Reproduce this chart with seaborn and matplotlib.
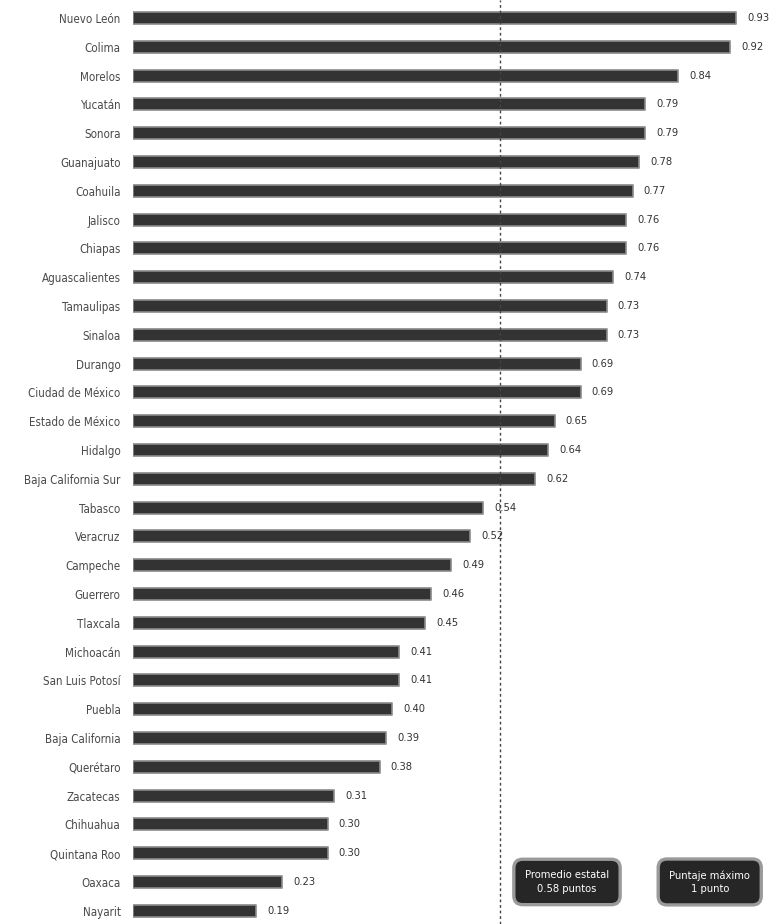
import pandas as pd
import matplotlib.pyplot as plt
import seaborn as sns

# datos: puntaje por entidad federativa
estados = ['Nuevo León', 'Colima', 'Morelos', 'Yucatán', 'Sonora', 'Guanajuato',
           'Coahuila', 'Jalisco', 'Chiapas', 'Aguascalientes', 'Tamaulipas',
           'Sinaloa', 'Durango', 'Ciudad de México', 'Estado de México', 'Hidalgo',
           'Baja California Sur', 'Tabasco', 'Veracruz', 'Campeche', 'Guerrero',
           'Tlaxcala', 'Michoacán', 'San Luis Potosí', 'Puebla', 'Baja California',
           'Querétaro', 'Zacatecas', 'Chihuahua', 'Quintana Roo', 'Oaxaca', 'Nayarit']
puntaje = [0.93, 0.92, 0.84, 0.79, 0.79, 0.78, 0.77, 0.76, 0.76, 0.74, 0.73,
           0.73, 0.69, 0.69, 0.65, 0.64, 0.62, 0.54, 0.52, 0.49, 0.46, 0.45,
           0.41, 0.41, 0.40, 0.39, 0.38, 0.31, 0.30, 0.30, 0.23, 0.19]
# línea punteada del promedio (según se ve en la imagen) y textos de los recuadros
linea_promedio = 0.566
texto_promedio = 'Promedio estatal\n0.58 puntos'
texto_maximo = 'Puntaje máximo\n1 punto'

df = pd.DataFrame({'estado': estados, 'puntaje': puntaje})

sns.set_style('white')
plt.rcParams['font.family'] = ['DejaVu Sans']
plt.rcParams['font.stretch'] = 'condensed'

fig = plt.figure(figsize=(7.72, 9.24), dpi=100)
ax = fig.add_axes([133 / 772, 0, 639 / 772, 1])

sns.barplot(data=df, x='puntaje', y='estado', color='#333333', width=0.42,
            edgecolor='#8a8a8a', linewidth=1.2, ax=ax)
for p in ax.patches:
    p.set_joinstyle('round')

ax.bar_label(ax.containers[0], labels=[f'{v:.2f}' for v in puntaje],
             padding=8, fontsize=8, color='#333333', fontstretch='condensed')

ax.axvline(linea_promedio, color='#444444', lw=1, ls=(0, (2, 2)))

ax.set_xlim(0, 0.985)
ax.set_ylim(31.46, -0.625)
ax.set_xlabel('')
ax.set_ylabel('')
ax.set_xticks([])
ax.tick_params(axis='y', length=0, pad=9, labelsize=8.3, labelcolor='#4a4a4a')
for t in ax.get_yticklabels():
    t.set_fontstretch('condensed')
sns.despine(ax=ax, left=True, bottom=True)

caja = dict(boxstyle='round,pad=1.0,rounding_size=0.8', fc='#262626', ec='#9a9a9a', lw=2.4)
ax.text(0.669, 30.0, texto_promedio, ha='center', va='center', fontsize=8,
        color='white', bbox=caja, linespacing=1.4, fontstretch='condensed')
ax.text(0.889, 30.0, texto_maximo, ha='center', va='center', fontsize=8,
        color='white', bbox=caja, linespacing=1.4, fontstretch='condensed')

fig.savefig('out.png', dpi=100)
